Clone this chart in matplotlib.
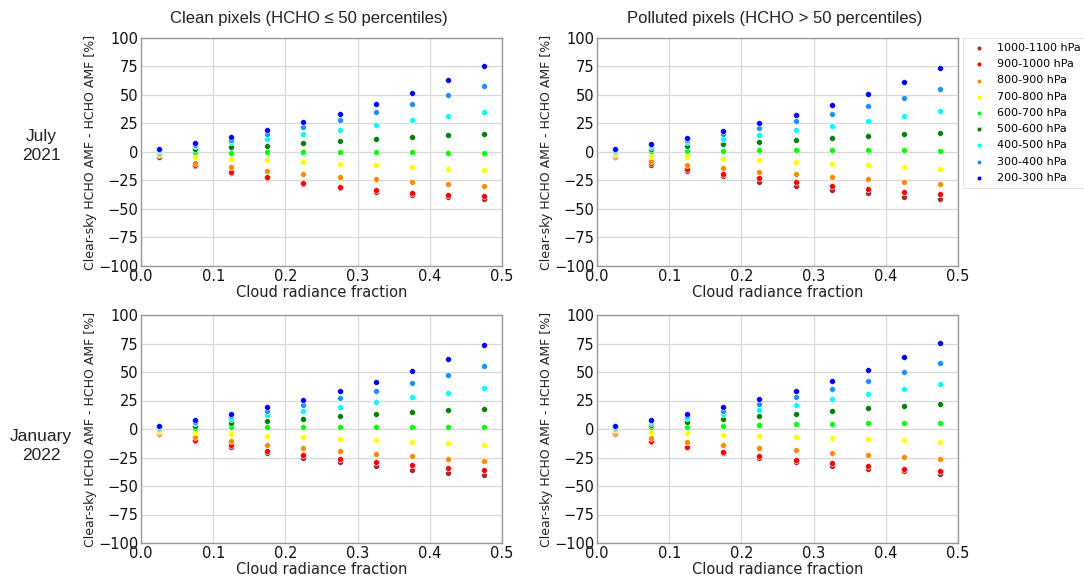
import matplotlib
matplotlib.use("Agg")
import matplotlib.pyplot as plt

crf = [0.025, 0.075, 0.125, 0.175, 0.225, 0.275, 0.325, 0.375, 0.425, 0.475]
levels = ["1000-1100 hPa", "900-1000 hPa", "800-900 hPa", "700-800 hPa", "600-700 hPa",
          "500-600 hPa", "400-500 hPa", "300-400 hPa", "200-300 hPa"]
colors = ["brown", "red", "darkorange", "yellow", "lime", "green", "cyan", "dodgerblue", "blue"]

row_labels = ["July\n2021", "January\n2022"]
col_titles = ["Clean pixels (HCHO \u2264 50 percentiles)", "Polluted pixels (HCHO > 50 percentiles)"]

jul_clean = [
    [-4.5, -12.6, -18.5, -23.2, -28.2, -31.8, -35.0, -37.4, -39.4, -41.2],
    [-4.0, -11.5, -17.4, -22.0, -27.0, -30.3, -33.2, -35.9, -37.9, -38.8],
    [-3.0, -9.4, -13.2, -16.5, -19.4, -21.8, -24.1, -26.5, -28.5, -29.7],
    [-1.5, -4.4, -6.5, -7.4, -8.8, -10.3, -11.8, -13.2, -14.7, -16.2],
    [-0.5, -0.3, -0.6, -0.3, 0.0, 0.0, 0.0, 0.0, -0.6, -1.2],
    [0.5, 2.4, 4.1, 5.6, 7.6, 9.4, 11.5, 13.2, 15.0, 16.2],
    [1.2, 5.0, 9.0, 11.8, 15.9, 19.7, 23.5, 27.9, 31.8, 35.0],
    [2.0, 6.5, 10.9, 15.9, 21.5, 27.9, 34.7, 41.8, 49.7, 57.9],
    [2.9, 7.6, 12.9, 19.0, 25.9, 33.5, 42.4, 52.0, 62.9, 75.6],
]
jul_polluted = [
    [-4.2, -11.2, -16.5, -21.2, -25.9, -29.7, -33.2, -36.2, -39.1, -41.5],
    [-3.8, -9.7, -14.7, -19.4, -22.9, -26.5, -29.4, -32.4, -34.7, -37.1],
    [-3.0, -7.9, -11.8, -14.4, -17.4, -19.7, -22.0, -24.1, -26.5, -28.2],
    [-1.5, -3.2, -4.7, -6.2, -7.4, -8.8, -10.3, -11.8, -13.2, -14.7],
    [0.0, 0.9, 0.9, 1.2, 1.5, 1.8, 1.8, 1.8, 1.5, 0.9],
    [0.8, 2.6, 5.0, 6.8, 8.5, 10.9, 12.6, 14.1, 15.9, 16.8],
    [1.5, 4.4, 8.5, 11.8, 15.3, 19.1, 23.2, 27.6, 31.5, 35.6],
    [2.0, 6.0, 10.3, 15.6, 20.9, 26.8, 32.9, 40.0, 47.4, 55.0],
    [2.6, 7.4, 12.6, 18.8, 25.3, 32.6, 41.2, 50.9, 61.5, 73.5],
]
jan_clean = [
    [-4.2, -10.5, -15.8, -21.0, -25.4, -29.2, -32.5, -35.7, -38.6, -40.6],
    [-3.8, -9.4, -14.0, -19.0, -22.5, -26.0, -28.9, -31.6, -33.9, -36.3],
    [-2.8, -7.3, -10.8, -14.0, -16.7, -19.3, -21.6, -24.0, -26.0, -27.8],
    [-1.5, -2.6, -4.7, -5.8, -7.0, -8.5, -9.6, -11.1, -12.6, -14.0],
    [0.0, 0.9, 1.5, 1.8, 2.0, 2.0, 2.0, 2.0, 2.0, 1.5],
    [0.8, 2.9, 5.3, 7.0, 9.1, 11.1, 12.9, 14.6, 16.4, 17.3],
    [1.5, 5.0, 9.1, 12.3, 15.8, 19.3, 23.4, 27.8, 31.9, 35.7],
    [2.2, 6.4, 11.1, 16.1, 21.0, 26.9, 33.3, 40.1, 47.4, 55.3],
    [2.9, 7.6, 13.2, 19.3, 25.7, 33.0, 41.5, 50.9, 61.4, 73.4],
]
jan_polluted = [
    [-4.0, -11.0, -16.0, -21.0, -25.4, -29.2, -32.2, -35.1, -36.8, -39.2],
    [-3.8, -10.5, -15.5, -20.2, -23.7, -26.9, -29.8, -32.2, -34.8, -36.5],
    [-2.5, -7.6, -11.1, -14.3, -16.7, -18.7, -20.8, -22.5, -24.3, -26.0],
    [-1.2, -2.6, -3.8, -5.0, -5.8, -7.0, -7.9, -8.8, -9.9, -11.4],
    [0.0, 1.8, 2.0, 2.9, 3.5, 4.1, 4.7, 5.0, 5.3, 5.0],
    [0.8, 3.2, 6.1, 8.5, 11.1, 13.5, 16.1, 18.4, 20.5, 21.9],
    [1.5, 5.3, 9.4, 13.2, 17.0, 21.0, 26.0, 30.7, 35.4, 39.8],
    [2.2, 6.8, 11.1, 16.1, 22.2, 28.1, 34.8, 42.1, 50.0, 57.9],
    [2.9, 7.9, 13.5, 19.3, 26.0, 33.6, 42.1, 52.0, 63.2, 75.4],
]

panels = [[jul_clean, jul_polluted], [jan_clean, jan_polluted]]

W, H = 1084, 581
fig = plt.figure(figsize=(W / 100, H / 100), dpi=100)

lefts = [141, 597]
tops = [38, 315]
aw, ah = 361, 228

axes = [[None, None], [None, None]]
for r in range(2):
    for c in range(2):
        ax = fig.add_axes([lefts[c] / W, 1 - (tops[r] + ah) / H, aw / W, ah / H])
        axes[r][c] = ax
        data = panels[r][c]
        for vals, lab, col in zip(data, levels, colors):
            ax.scatter(crf, vals, s=18, color=col, edgecolors="white", linewidths=0.4,
                       label=lab, zorder=3)
        ax.set_xlim(0, 0.5)
        ax.set_ylim(-100, 100)
        ax.set_xticks([0.0, 0.1, 0.2, 0.3, 0.4, 0.5])
        ax.set_yticks([-100, -75, -50, -25, 0, 25, 50, 75, 100])
        ax.grid(True, color="#d8d8d8", linewidth=0.9, zorder=0)
        ax.set_axisbelow(True)
        ax.tick_params(length=0, pad=2, labelsize=10.5, labelcolor="#111111")
        for sp in ax.spines.values():
            sp.set_color("#999999")
            sp.set_linewidth(1.0)
        ax.set_xlabel("Cloud radiance fraction", fontsize=10.5, labelpad=1, color="#222222")
        ax.set_ylabel("Clear-sky HCHO AMF - HCHO AMF [%]", fontsize=9, labelpad=1,
                      color="#222222")

for c in range(2):
    cx = [309, 775][c]
    fig.text(cx / W, 1 - 18 / H, col_titles[c], ha="center", va="center",
             fontsize=12, family="Liberation Sans", color="#222222")

for r in range(2):
    cy = [146, 446][r]
    fig.text(41 / W, 1 - cy / H, row_labels[r], ha="center", va="center",
             fontsize=12.5, family="Liberation Sans", color="#222222", linespacing=1.3)

leg = axes[0][1].legend(loc="upper left", bbox_to_anchor=(1.014, 1.0), borderaxespad=0,
                        fontsize=8, frameon=True, markerscale=0.8, labelspacing=0.56,
                        handletextpad=0.6, borderpad=0.45, fancybox=False)
leg.get_frame().set_edgecolor("#dddddd")
leg.get_frame().set_linewidth(0.8)

fig.savefig("out.png", dpi=100)
